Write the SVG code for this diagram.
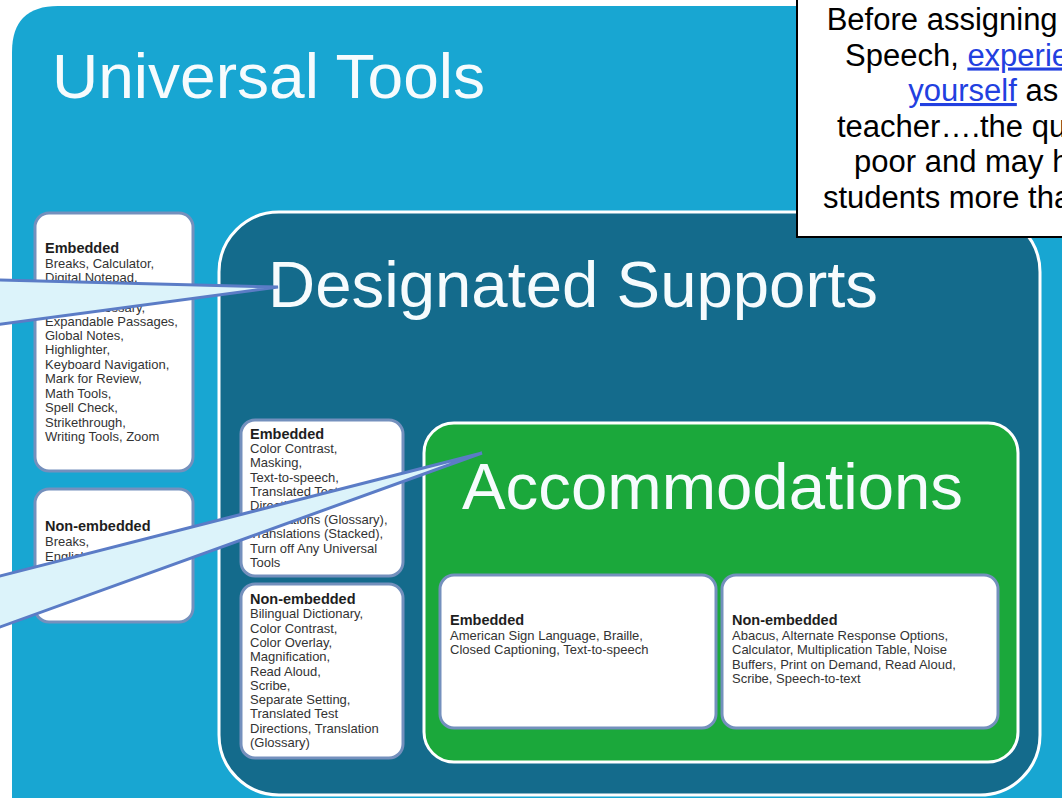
<svg xmlns="http://www.w3.org/2000/svg" width="1062" height="798" viewBox="0 0 1062 798">
<style>
.title{font-family:"Liberation Sans",Arial,sans-serif;fill:#f6fbfd;}
.box{fill:#ffffff;stroke:#7490bd;stroke-width:3;}
.hd{font-family:"Liberation Sans",Arial,sans-serif;font-weight:bold;font-size:14.5px;fill:#1e1e1e;}
.tx{font-family:"Liberation Sans",Arial,sans-serif;font-size:13px;fill:#333333;}
.note{font-family:"Liberation Sans",Arial,sans-serif;font-size:31px;fill:#000000;}
.link{fill:#2240e0;text-decoration:underline;}
.callout{fill:#dcf3fa;stroke:#5b7cc6;stroke-width:3;stroke-linejoin:miter;}
</style>
<rect x="0" y="0" width="1062" height="798" fill="#ffffff"/>
<g id="universal-tools">
<path d="M12 798 L12 52 Q12 6 58 6 L1062 6 L1062 798 Z" fill="#18a6d2"/>
<text class="title" x="52" y="98" font-size="63" textLength="433" lengthAdjust="spacingAndGlyphs">Universal Tools</text>
</g>
<g id="ut-embedded">
<rect class="box" x="35" y="213" width="158" height="258" rx="14"/>
<text class="hd" x="45" y="253">Embedded</text>
<text class="tx" x="45" y="267.5">Breaks, Calculator,</text>
<text class="tx" x="45" y="282">Digital Notepad,</text>
<text class="tx" x="45" y="311.5">English Glossary,</text>
<text class="tx" x="45" y="325.5">Expandable Passages,</text>
<text class="tx" x="45" y="339.8">Global Notes,</text>
<text class="tx" x="45" y="354.2">Highlighter,</text>
<text class="tx" x="45" y="368.7">Keyboard Navigation,</text>
<text class="tx" x="45" y="383.1">Mark for Review,</text>
<text class="tx" x="45" y="397.6">Math Tools,</text>
<text class="tx" x="45" y="412">Spell Check,</text>
<text class="tx" x="45" y="426.5">Strikethrough,</text>
<text class="tx" x="45" y="441">Writing Tools, Zoom</text>
</g>
<g id="ut-nonembedded">
<rect class="box" x="35" y="489" width="158" height="133" rx="14"/>
<text class="hd" x="45" y="531">Non-embedded</text>
<text class="tx" x="45" y="545.5">Breaks,</text>
<text class="tx" x="45" y="561">English Dictionary,</text>
</g>
<g id="designated-supports">
<rect x="219" y="212" width="821" height="583" rx="60" fill="#146b8c" stroke="#ffffff" stroke-width="3"/>
<text class="title" x="268" y="307" font-size="65" textLength="610" lengthAdjust="spacingAndGlyphs">Designated Supports</text>
</g>
<g id="ds-embedded">
<rect class="box" x="241" y="420" width="162" height="156" rx="14"/>
<text class="hd" x="250" y="439">Embedded</text>
<text class="tx" x="250" y="453.2">Color Contrast,</text>
<text class="tx" x="250" y="467.4">Masking,</text>
<text class="tx" x="250" y="481.6">Text-to-speech,</text>
<text class="tx" x="250" y="495.8">Translated Test</text>
<text class="tx" x="250" y="510">Directions,</text>
<text class="tx" x="250" y="524.2">Translations (Glossary),</text>
<text class="tx" x="250" y="538.4">Translations (Stacked),</text>
<text class="tx" x="250" y="552.6">Turn off Any Universal</text>
<text class="tx" x="250" y="566.8">Tools</text>
</g>
<g id="ds-nonembedded">
<rect class="box" x="241" y="584" width="162" height="174" rx="14"/>
<text class="hd" x="250" y="604">Non-embedded</text>
<text class="tx" x="250" y="618.3">Bilingual Dictionary,</text>
<text class="tx" x="250" y="632.6">Color Contrast,</text>
<text class="tx" x="250" y="646.9">Color Overlay,</text>
<text class="tx" x="250" y="661.2">Magnification,</text>
<text class="tx" x="250" y="675.5">Read Aloud,</text>
<text class="tx" x="250" y="689.8">Scribe,</text>
<text class="tx" x="250" y="704.1">Separate Setting,</text>
<text class="tx" x="250" y="718.4">Translated Test</text>
<text class="tx" x="250" y="732.7">Directions, Translation</text>
<text class="tx" x="250" y="747">(Glossary)</text>
</g>
<g id="accommodations">
<rect x="424" y="423" width="594" height="339" rx="30" fill="#1ba83b" stroke="#ffffff" stroke-width="3"/>
<text class="title" x="462" y="509" font-size="65" textLength="501" lengthAdjust="spacingAndGlyphs">Accommodations</text>
</g>
<g id="acc-embedded">
<rect class="box" x="440" y="575" width="276" height="153" rx="14"/>
<text class="hd" x="450" y="625">Embedded</text>
<text class="tx" x="450" y="639.5">American Sign Language, Braille,</text>
<text class="tx" x="450" y="654">Closed Captioning, Text-to-speech</text>
</g>
<g id="acc-nonembedded">
<rect class="box" x="722" y="575" width="276" height="153" rx="14"/>
<text class="hd" x="732" y="625">Non-embedded</text>
<text class="tx" x="732" y="639.5">Abacus, Alternate Response Options,</text>
<text class="tx" x="732" y="654">Calculator, Multiplication Table, Noise</text>
<text class="tx" x="732" y="668.5">Buffers, Print on Demand, Read Aloud,</text>
<text class="tx" x="732" y="683">Scribe, Speech-to-text</text>
</g>
<g id="connectors">
<path class="callout" d="M-10 279.7 L278 287 L-10 325.5 Z"/>
<path class="callout" d="M-10 578.5 L482 453 L-10 630.6 Z"/>
</g>
<g id="note">
<rect x="797" y="-3" width="290" height="240" fill="#ffffff" stroke="#000000" stroke-width="2"/>
<text class="note" x="826.7" y="30">Before assigning</text>
<text class="note" x="845" y="65.5">Speech, <tspan class="link">experie</tspan></text>
<text class="note" x="908.3" y="101"><tspan class="link">yourself</tspan> as</text>
<text class="note" x="837" y="136.5">teacher….the qu</text>
<text class="note" x="854" y="172">poor and may h</text>
<text class="note" x="823" y="207.5">students more tha</text>
</g>
</svg>
